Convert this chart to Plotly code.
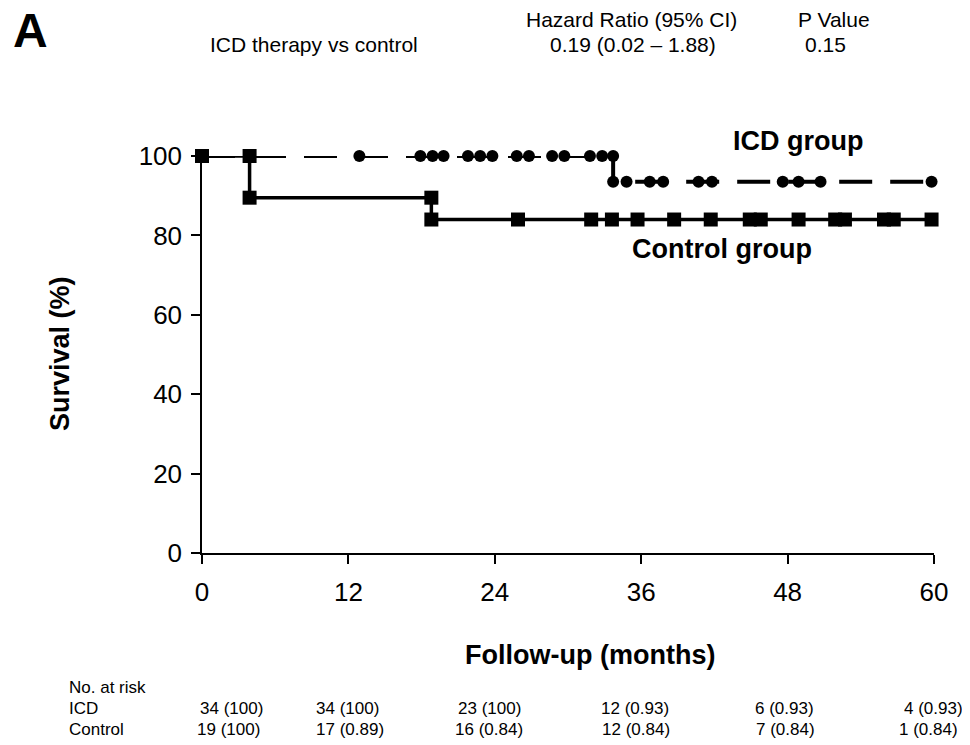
import plotly.graph_objects as go

# ---------------- data ----------------
month_ticks = [0, 12, 24, 36, 48, 60]
survival_ticks = [0, 20, 40, 60, 80, 100]

# ICD group: Kaplan-Meier survival (%) at each plotted time (censor marks)
icd_time = [0, 12.9, 17.9, 18.9, 19.8, 21.8, 22.8, 23.8, 25.8, 26.8, 28.7, 29.7,
            31.8, 32.8, 33.7, 34.8, 36.7, 37.8, 40.7, 41.8, 47.6, 48.9, 50.7, 59.8]
icd_surv = [100, 100, 100, 100, 100, 100, 100, 100, 100, 100, 100, 100,
            100, 100, 93.5, 93.5, 93.5, 93.5, 93.5, 93.5, 93.5, 93.5, 93.5, 93.5]

# Control group
ctrl_time = [0, 3.9, 18.8, 25.9, 31.9, 33.6, 35.7, 38.7, 41.7, 44.9, 45.8,
             48.9, 51.9, 52.7, 55.9, 56.7, 59.8]
ctrl_surv = [100, 89.5, 84, 84, 84, 84, 84, 84, 84, 84, 84,
             84, 84, 84, 84, 84, 84]

risk_groups = ["ICD", "Control"]
risk_icd = ["34 (100)", "34 (100)", "23 (100)", "12 (0.93)", "6 (0.93)", "4 (0.93)"]
risk_ctrl = ["19 (100)", "17 (0.89)", "16 (0.84)", "12 (0.84)", "7 (0.84)", "1 (0.84)"]

header_cols = ["Hazard Ratio (95% CI)", "P Value"]
header_row = ["ICD therapy vs control", "0.19 (0.02 \u2013 1.88)", "0.15"]


def km_steps(t, s):
    xs, ys = [t[0]], [s[0]]
    for i in range(1, len(t)):
        if s[i] != s[i - 1]:
            xs.append(t[i]); ys.append(s[i - 1])
        xs.append(t[i]); ys.append(s[i])
    return xs, ys


# ---------------- layout helpers (page pixel coords -> paper) ----------------
OFF = 8                      # default page margin around the figure
W, H = 962, 737
PX0, PX1 = 202, 934          # page x of months 0 and 60
PY0, PY1 = 553, 156          # page y of 0% and 100%
L = PX0 - OFF
R = W - (PX1 - OFF)
T = PY1 - OFF
B = H - (PY0 - OFF)
PW, PH = PX1 - PX0, PY0 - PY1


def pxx(x):
    return (x - PX0) / PW


def pxy(y):
    return (PY0 - y) / PH


FONT = "Liberation Sans, Arial, sans-serif"

fig = go.Figure()

ix, iy = km_steps(icd_time, icd_surv)
fig.add_trace(go.Scatter(
    x=ix, y=iy, mode="lines+markers", name="ICD group",
    line=dict(color="black", width=4, dash="33px,18px"),
    marker=dict(symbol="circle", size=12, color="black"),
    cliponaxis=False, showlegend=False))

cx, cy = km_steps(ctrl_time, ctrl_surv)
fig.add_trace(go.Scatter(
    x=cx, y=cy, mode="lines+markers", name="Control group",
    line=dict(color="black", width=3.5),
    marker=dict(symbol="square", size=14, color="black"),
    cliponaxis=False, showlegend=False))

ann = []


def add_text(x, y, text, size, xanchor="center", textangle=0, xref="paper", xshift=0):
    ann.append(dict(x=x, y=y, xref=xref, yref="paper", text=text, xanchor=xanchor,
                    yanchor="middle", textangle=textangle, xshift=xshift, showarrow=False,
                    font=dict(family=FONT, size=size, color="black")))


# group labels
add_text(pxx(798), pxy(141), "<b>ICD group</b>", 27)
add_text(pxx(722), pxy(249), "<b>Control group</b>", 27)
# axis titles
add_text(pxx(60), pxy(354), "<b>Survival (%)</b>", 27, textangle=-90)
add_text(pxx(590), pxy(655), "<b>Follow-up (months)</b>", 27)
# header
add_text(pxx(30), pxy(31), "<b>A</b>", 48)
for txt, cxp in zip(header_cols, [631, 834]):
    add_text(pxx(cxp), pxy(20), txt, 21)
for txt, cxp in zip(header_row, [314, 633, 825]):
    add_text(pxx(cxp), pxy(45), txt, 21)
# numbers at risk
add_text(pxx(67), pxy(687), "No. at risk", 17, xanchor="left")
shifts_icd = [29, -1, -5, -6, -3, -1]
shifts_ctrl = [26, 2, -6, -5, -2, -6]
for grp, row, shifts, ypx in [(risk_groups[0], risk_icd, shifts_icd, 708),
                              (risk_groups[1], risk_ctrl, shifts_ctrl, 729)]:
    add_text(pxx(67), pxy(ypx), grp, 17, xanchor="left")
    for m, txt, sh in zip(month_ticks, row, shifts):
        add_text(m, pxy(ypx), txt, 17, xref="x", xshift=sh)

axis_common = dict(showgrid=False, zeroline=False, showline=True, linecolor="black",
                   linewidth=1.5, ticks="outside", ticklen=9, tickwidth=1.5, tickcolor="black",
                   tickfont=dict(family=FONT, size=26, color="black"))

fig.update_layout(
    width=W, height=H,
    margin=dict(l=L, r=R, t=T, b=B),
    paper_bgcolor="white", plot_bgcolor="white",
    xaxis=dict(range=[0, 60], tickvals=month_ticks, ticklabelstandoff=6, **axis_common),
    yaxis=dict(range=[0, 100], tickvals=survival_ticks, ticklabelstandoff=4, **axis_common),
    annotations=ann,
)

fig.write_html("out.html")
